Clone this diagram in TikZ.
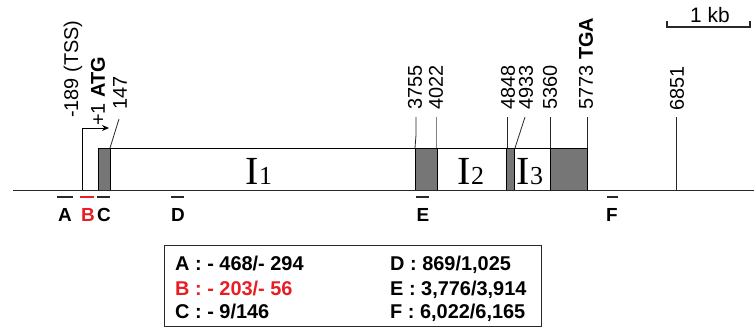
\documentclass[tikz,border=0pt]{standalone}
\usepackage{fontspec}
\setmainfont{Liberation Sans}
\newfontfamily\serifI{Liberation Serif}
\usetikzlibrary{arrows.meta}
\definecolor{exgray}{RGB}{118,118,118}
\definecolor{linegray}{RGB}{40,40,40}
\definecolor{mkred}{RGB}{232,30,36}
\begin{document}
\begin{tikzpicture}[x=1bp,y=-1bp,
  lab/.style={rotate=90,anchor=west,inner sep=0pt,font=\fontsize{20}{22}\selectfont},
  exon/.style={draw=black,fill=exgray,line width=0.8bp},
  lead/.style={draw=linegray,line width=0.8bp},
  marker/.style={line width=2.6bp,draw=linegray},
  mklet/.style={inner sep=0pt,font=\fontsize{19}{20}\selectfont\bfseries},
  leg/.style={anchor=base west,inner sep=0pt,font=\fontsize{20}{22}\selectfont\bfseries},
  roman/.style={anchor=base,inner sep=0pt}
]
\useasboundingbox (0,0) rectangle (754,328);
% intron top line
\coordinate (top0) at (110,148);
\coordinate (top1) at (587,148);
\draw[line width=0.8bp] (top0) -- (top1);
% exons
\draw[exon] (98,148) rectangle (110,190);
\draw[exon] (415,148) rectangle (437,190);
\draw[exon] (506,148) rectangle (514,190);
\draw[exon] (550,148) rectangle (587,190);
% baseline
\coordinate (b0) at (13,190);
\coordinate (b1) at (754,190);
\draw[line width=1bp,draw=linegray] (b0) -- (b1);
% TSS arrow
\coordinate (tss0) at (82,190);
\coordinate (tss1) at (82,128);
\coordinate (tss2) at (109,128);
\draw[line width=0.9bp,-{Stealth[length=7bp,width=6bp]}] (tss0) -- (tss1) -- (tss2);
% rotated labels
\node[lab] (lTSS) at (73,118) {-189 (TSS)};
\node[lab] (lATG) at (98,126) {+1 \textbf{ATG}};
\node[lab] (l147) at (120,110) {147};
\node[lab] (l3755) at (415,110) {3755};
\node[lab] (l4022) at (436,110) {4022};
\node[lab] (l4848) at (508,110) {4848};
\node[lab] (l4933) at (526,110) {4933};
\node[lab] (l5360) at (550,110) {5360};
\node[lab] (l5773) at (586,110) {5773 \textbf{TGA}};
\node[lab] (l6851) at (677,111) {6851};
% leaders
\coordinate (e147) at (110,148);
\coordinate (s147) at (119,119);
\draw[lead] (s147) -- (e147);
\coordinate (s3755) at (416,117); \coordinate (k3755) at (416,135); \coordinate (e3755) at (415,148);
\draw[lead] (s3755) -- (k3755) -- (e3755);
\coordinate (s4022) at (436,117); \coordinate (e4022) at (436,148);
\draw[lead,draw=gray] (s4022) -- (e4022);
\coordinate (s4848) at (507,117); \coordinate (e4848) at (507,148);
\draw[lead] (s4848) -- (e4848);
\coordinate (s4933) at (525,117); \coordinate (e4933) at (515,148);
\draw[lead] (s4933) -- (e4933);
\coordinate (s5360) at (550,117); \coordinate (e5360) at (550,148);
\draw[lead] (s5360) -- (e5360);
\coordinate (s5773) at (587,117); \coordinate (e5773) at (587,148);
\draw[lead] (s5773) -- (e5773);
\coordinate (s6851) at (676,117); \coordinate (e6851) at (676,190);
\draw[lead] (s6851) -- (e6851);
% intron labels
\node[roman] (I1) at (259,184) {\serifI\fontsize{40}{40}\selectfont I\fontsize{26}{26}\selectfont 1};
\node[roman] (I2) at (471,184) {\serifI\fontsize{40}{40}\selectfont I\fontsize{26}{26}\selectfont 2};
\node[roman] (I3) at (530,184) {\serifI\fontsize{40}{40}\selectfont I\fontsize{26}{26}\selectfont 3};
% markers
\draw[marker] (57,197) -- (73,197);
\draw[marker,draw=mkred] (80,197) -- (94,197);
\draw[marker] (97,197) -- (110,197);
\draw[marker] (171,197) -- (184,197);
\draw[marker] (416,197) -- (429,197);
\draw[marker] (607,197) -- (618,197);
\node[mklet] (mA) at (65,215) {A};
\node[mklet,text=mkred] (mB) at (88,215) {B};
\node[mklet] (mC) at (104,215) {C};
\node[mklet] (mD) at (178,215) {D};
\node[mklet] (mE) at (423,215) {E};
\node[mklet] (mF) at (612,215) {F};
% scale bar
\coordinate (sb0) at (667,21);
\coordinate (sb1) at (667,27);
\coordinate (sb2) at (750,27);
\coordinate (sb3) at (750,21);
\draw[line width=2.6bp,draw=linegray] (sb0) -- (sb1) -- (sb2) -- (sb3);
\node[inner sep=0pt,font=\fontsize{21}{22}\selectfont] (kb) at (710,15) {1 kb};
% legend
\draw[line width=0.9bp,draw=linegray] (164,245) rectangle (541,326);
\node[leg] (gA) at (175,270) {A : - 468/- 294};
\node[leg,text=mkred] (gB) at (175,295) {B : - 203/- 56};
\node[leg] (gC) at (175,318) {C : - 9/146};
\node[leg] (gD) at (390,270) {D : 869/1,025};
\node[leg] (gE) at (390,295) {E : 3,776/3,914};
\node[leg] (gF) at (390,318) {F : 6,022/6,165};
\end{tikzpicture}
\end{document}
